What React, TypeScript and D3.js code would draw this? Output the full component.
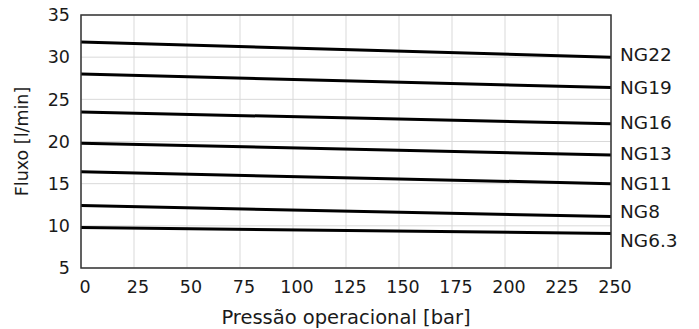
import React, { useEffect, useRef } from "react";
import * as d3 from "d3";

// pressure points (bar) and flow per nominal size (l/min)
const pressures = [0, 250];
const seriesNames = ["NG22", "NG19", "NG16", "NG13", "NG11", "NG8", "NG6.3"];
const flowNG22 = [31.8, 30.0];
const flowNG19 = [28.0, 26.4];
const flowNG16 = [23.5, 22.1];
const flowNG13 = [19.8, 18.4];
const flowNG11 = [16.4, 15.0];
const flowNG8 = [12.4, 11.1];
const flowNG63 = [9.8, 9.1];
const xTicks = [0, 25, 50, 75, 100, 125, 150, 175, 200, 225, 250];
const yTicks = [5, 10, 15, 20, 25, 30, 35];

export default function App() {
  const ref = useRef<SVGSVGElement>(null);

  useEffect(() => {
    const svg = d3.select(ref.current);
    svg.selectAll("*").remove();

    const W = 699;
    const H = 329;
    const margin = { top: 15, right: 88, bottom: 61, left: 81 };
    const width = W - margin.left - margin.right;
    const height = H - margin.top - margin.bottom;
    const font = "'DejaVu Sans', Verdana, sans-serif";
    const fs = "17.5px";

    const x = d3.scaleLinear().domain([0, 250]).range([0, width]);
    const y = d3.scaleLinear().domain([5, 35]).range([height, 0]);

    const g = svg
      .append("g")
      .attr("transform", `translate(${margin.left},${margin.top})`);

    // grid
    g.selectAll(".vgrid")
      .data(xTicks)
      .enter()
      .append("line")
      .attr("x1", d => x(d))
      .attr("x2", d => x(d))
      .attr("y1", 0)
      .attr("y2", height)
      .attr("stroke", "#d9d9d9")
      .attr("stroke-width", 1);

    g.selectAll(".hgrid")
      .data(yTicks)
      .enter()
      .append("line")
      .attr("x1", 0)
      .attr("x2", width)
      .attr("y1", d => y(d))
      .attr("y2", d => y(d))
      .attr("stroke", "#d9d9d9")
      .attr("stroke-width", 1);

    // curves
    const allFlows = [flowNG22, flowNG19, flowNG16, flowNG13, flowNG11, flowNG8, flowNG63];
    const labelNudge = [-3, 0, -1, -2, 0, -5, 7];
    const line = d3
      .line<number>()
      .x((_, i) => x(pressures[i]))
      .y(d => y(d));

    allFlows.forEach((flows, i) => {
      g.append("path")
        .attr("d", line(flows))
        .attr("fill", "none")
        .attr("stroke", "#000")
        .attr("stroke-width", 3);

      g.append("text")
        .attr("x", width + 9)
        .attr("y", y(flows[flows.length - 1]) + labelNudge[i])
        .attr("dy", "0.36em")
        .style("font-family", font)
        .style("font-size", "18.5px")
        .attr("fill", "#1a1a1a")
        .text(seriesNames[i]);
    });

    // frame
    g.append("rect")
      .attr("x", 0)
      .attr("y", 0)
      .attr("width", width)
      .attr("height", height)
      .attr("fill", "none")
      .attr("stroke", "#333")
      .attr("stroke-width", 1.5);

    // tick labels
    g.selectAll(".xlab")
      .data(xTicks)
      .enter()
      .append("text")
      .attr("x", d => x(d) + 4)
      .attr("y", height + 19)
      .attr("dy", "0.36em")
      .attr("text-anchor", "middle")
      .style("font-family", font)
      .style("font-size", fs)
      .attr("fill", "#1a1a1a")
      .text(d => d);

    g.selectAll(".ylab")
      .data(yTicks)
      .enter()
      .append("text")
      .attr("x", -11)
      .attr("y", d => y(d))
      .attr("dy", "0.36em")
      .attr("text-anchor", "end")
      .style("font-family", font)
      .style("font-size", fs)
      .attr("fill", "#1a1a1a")
      .text(d => d);

    // axis titles
    g.append("text")
      .attr("x", width / 2)
      .attr("y", height + 49)
      .attr("dy", "0.36em")
      .attr("text-anchor", "middle")
      .style("font-family", font)
      .style("font-size", "19.5px")
      .attr("fill", "#1a1a1a")
      .text("Pressão operacional [bar]");

    g.append("text")
      .attr("transform", `translate(${-59},${height / 2}) rotate(-90)`)
      .attr("dy", "0.36em")
      .attr("text-anchor", "middle")
      .style("font-family", font)
      .style("font-size", fs)
      .attr("fill", "#1a1a1a")
      .text("Fluxo [l/min]");
  }, []);

  return (
    <svg
      ref={ref}
      width={699}
      height={329}
      style={{ position: "absolute", left: 0, top: 0, background: "#fff" }}
    />
  );
}
